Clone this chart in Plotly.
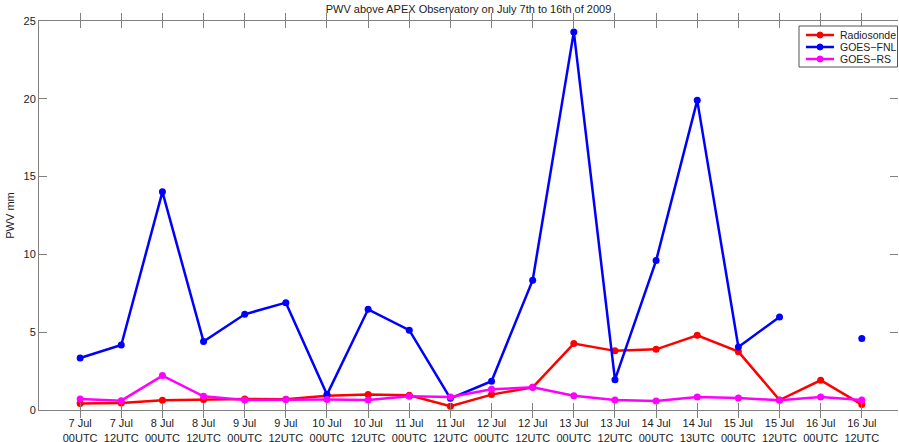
import plotly.graph_objects as go

# Sounding times (two-line tick labels)
times = [
    "7 Jul<br>00UTC", "7 Jul<br>12UTC", "8 Jul<br>00UTC", "8 Jul<br>12UTC",
    "9 Jul<br>00UTC", "9 Jul<br>12UTC", "10 Jul<br>00UTC", "10 Jul<br>12UTC",
    "11 Jul<br>00UTC", "11 Jul<br>12UTC", "12 Jul<br>00UTC", "12 Jul<br>12UTC",
    "13 Jul<br>00UTC", "13 Jul<br>12UTC", "14 Jul<br>00UTC", "14 Jul<br>13UTC",
    "15 Jul<br>00UTC", "15 Jul<br>12UTC", "16 Jul<br>00UTC", "16 Jul<br>12UTC",
]

# PWV in mm
radiosonde = [0.41, 0.45, 0.62, 0.67, 0.71, 0.69, 0.92, 0.99, 0.95, 0.24,
              0.99, 1.46, 4.27, 3.80, 3.90, 4.80, 3.75, 0.64, 1.91, 0.35]
goes_fnl = [3.34, 4.18, 14.02, 4.40, 6.15, 6.90, 0.99, 6.47, 5.13, 0.75,
            1.85, 8.34, 24.30, 1.95, 9.60, 19.90, 4.05, 5.98, None, 4.59]
goes_rs = [0.71, 0.60, 2.21, 0.88, 0.64, 0.67, 0.67, 0.64, 0.88, 0.84,
           1.33, 1.46, 0.92, 0.64, 0.58, 0.84, 0.77, 0.62, 0.84, 0.64]

y_ticks = [0, 5, 10, 15, 20, 25]

series = [
    ("Radiosonde", radiosonde, "#ff0000"),
    ("GOES\u2212FNL", goes_fnl, "#0000ff"),
    ("GOES\u2212RS", goes_rs, "#ff00ff"),
]

W, H = 899, 442
ML, MR, MT, MB = 39, 1, 21, 32
PW, PH = W - ML - MR, H - MT - MB


def px_x(p):
    return (p - ML) / PW


def px_y(p):
    return (H - MB - p) / PH


fig = go.Figure()
for name, vals, color in series:
    fig.add_trace(go.Scatter(
        x=times, y=vals, name=name, mode="lines+markers",
        line=dict(color=color, width=2.5),
        marker=dict(color=color, size=7),
        connectgaps=False, showlegend=False,
    ))

# invisible trace to carry right-side mirrored y ticks
fig.add_trace(go.Scatter(x=[times[0]], y=[0], yaxis="y2", showlegend=False,
                         mode="markers", marker=dict(opacity=0), hoverinfo="skip"))

axis_col = "#808080"
font = dict(family="Liberation Sans, Arial, sans-serif", size=11, color="#222")

# compact boxed legend in the top-right corner
shapes = [dict(type="rect", xref="paper", yref="paper",
               x0=px_x(799), x1=px_x(897.5), y0=px_y(67), y1=px_y(26),
               line=dict(color="#555", width=1), fillcolor="white", layer="above")]
annotations = []
for i, (name, _, color) in enumerate(series):
    yy = px_y(35 + 12 * i)
    shapes.append(dict(type="line", xref="paper", yref="paper",
                       x0=px_x(806), x1=px_x(834), y0=yy, y1=yy,
                       line=dict(color=color, width=2.5), layer="above"))
    shapes.append(dict(type="circle", xref="paper", yref="paper",
                       x0=px_x(817), x1=px_x(823), y0=yy - 3 / PH, y1=yy + 3 / PH,
                       line=dict(color=color, width=1), fillcolor=color, layer="above"))
    annotations.append(dict(text=name, xref="paper", yref="paper",
                            x=px_x(838), y=yy, xanchor="left", yanchor="middle",
                            showarrow=False, font=dict(size=10.5)))

fig.update_layout(
    width=W, height=H,
    margin=dict(l=ML, r=MR, t=MT, b=MB, autoexpand=False),
    paper_bgcolor="white", plot_bgcolor="white",
    font=font,
    showlegend=False,
    title=dict(text="PWV above APEX Observatory on July 7th to 16th of 2009",
               x=0.5, xref="paper", xanchor="center", y=1, yref="container",
               yanchor="top", pad=dict(t=5), font=dict(size=11)),
    xaxis=dict(type="category", categoryorder="array", categoryarray=times,
               range=[-1, 19.88], showgrid=False, zeroline=False,
               showline=True, linecolor=axis_col, linewidth=1,
               mirror="allticks", ticks="inside", ticklen=7,
               tickcolor=axis_col, tickfont=dict(size=11),
               ticklabelstandoff=3, automargin=False),
    yaxis=dict(range=[0, 25], tickvals=y_ticks, showgrid=False, zeroline=False,
               showline=True, linecolor=axis_col, linewidth=1,
               ticks="inside", ticklen=8, tickcolor=axis_col, automargin=False,
               title=dict(text="PWV mm", standoff=6, font=dict(size=11))),
    yaxis2=dict(range=[0, 25], tickvals=y_ticks, overlaying="y", side="right",
                showgrid=False, zeroline=False, showline=False,
                ticks="inside", ticklen=8, tickcolor=axis_col,
                showticklabels=False, automargin=False),
    shapes=shapes,
    annotations=annotations,
)

fig.write_html("out.html")
